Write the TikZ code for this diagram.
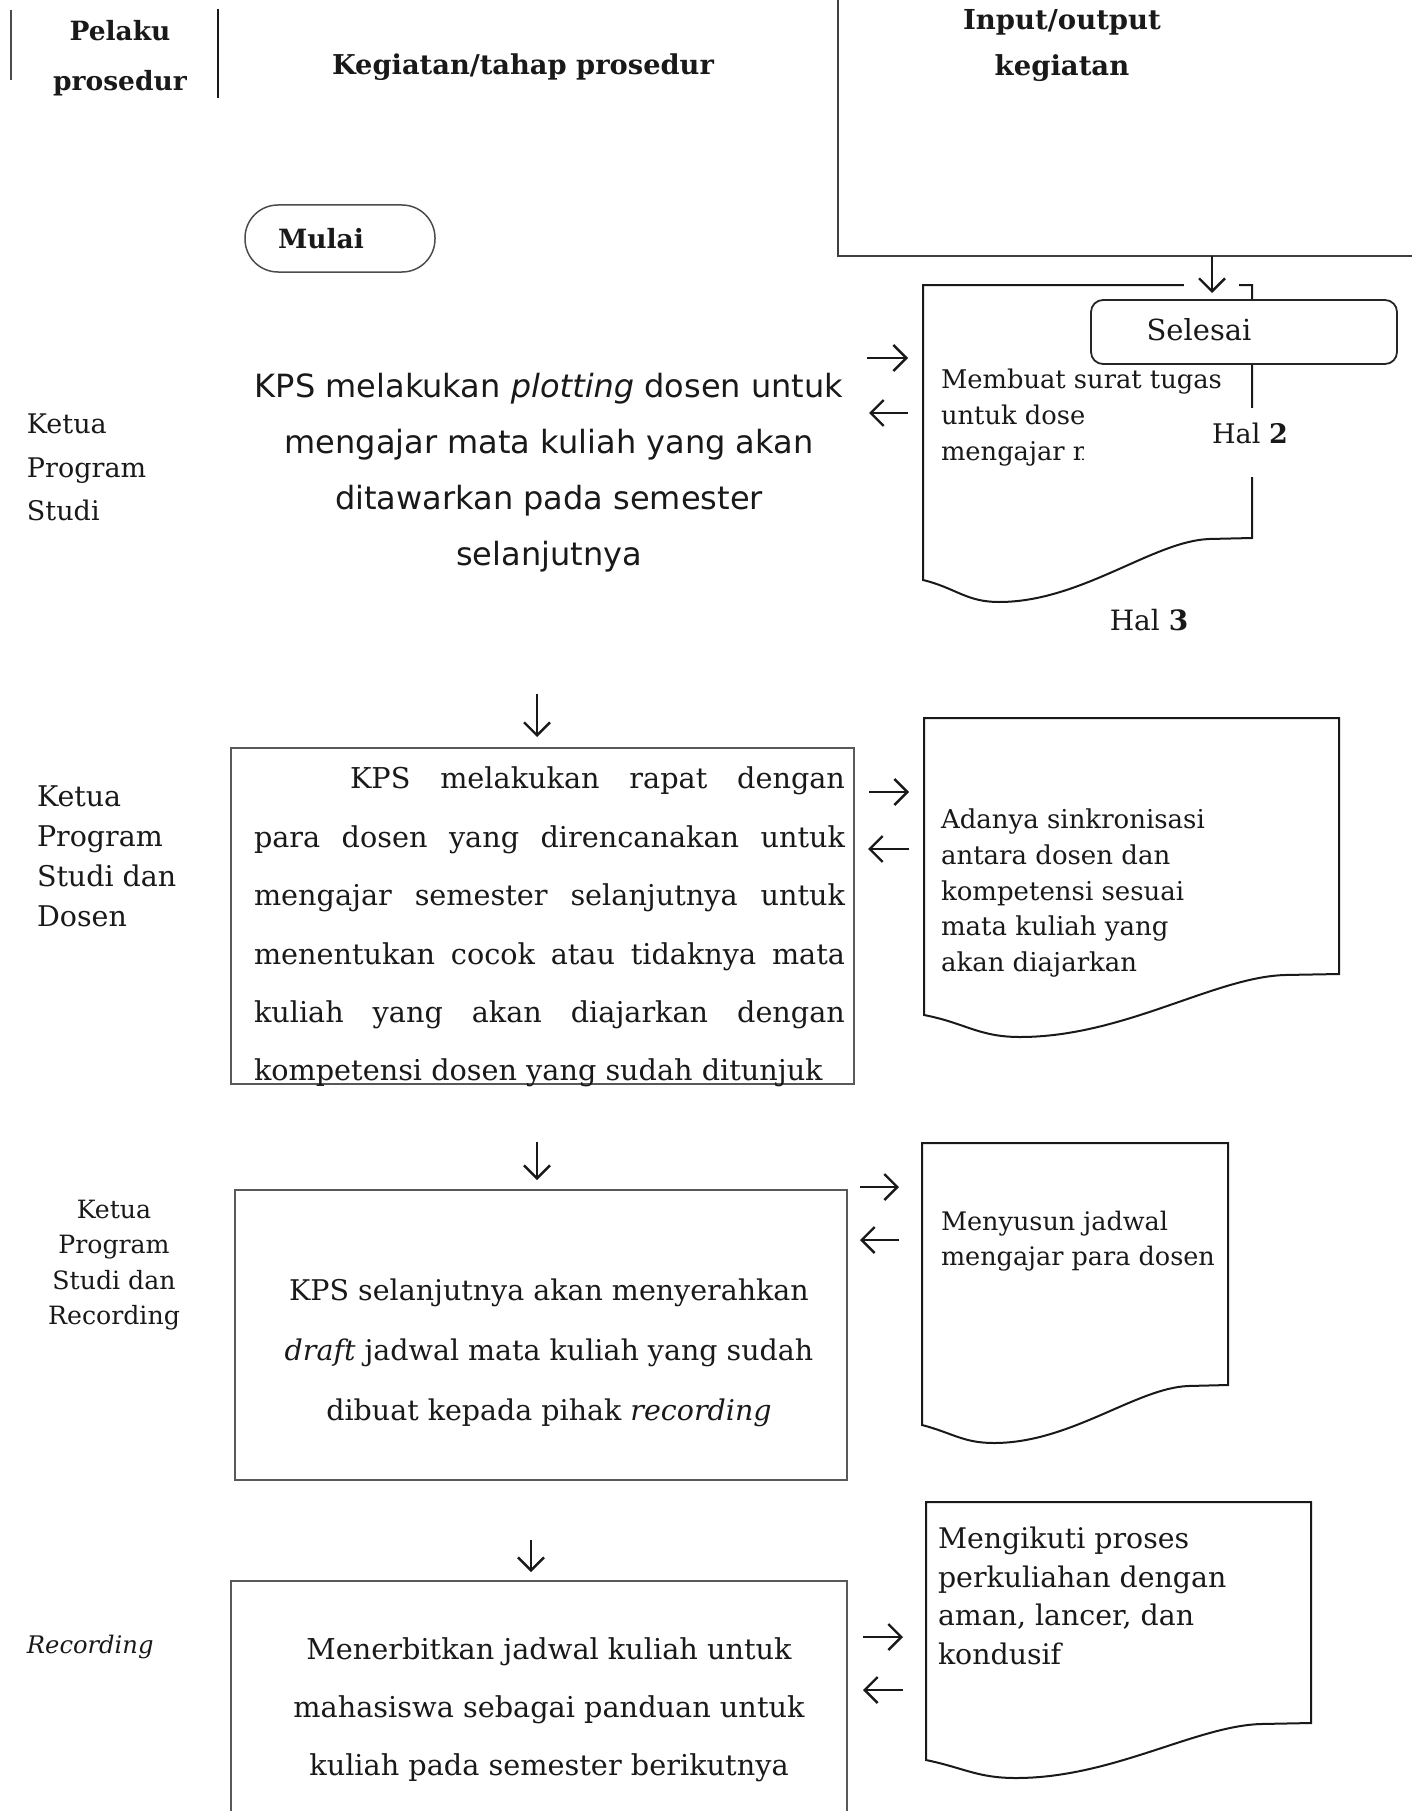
\documentclass[tikz,border=0pt]{standalone}
\usepackage{fontspec}
\setmainfont{DejaVu Serif}
\newfontfamily\sansf{DejaVu Sans}
\usetikzlibrary{arrows.meta}
\newcommand\fsz[2]{\fontsize{#1}{#2}\selectfont}
% document symbol: #1 left, #2 top, #3 right, #4 right bottom, #5 left bottom, #6 wave x, #7 wave y
\newcommand\docpath[7]{%
  \draw[docline] (#1,#2) -- (#3,#2) -- (#3,#4)
    -- ({#3-0.13*(#3-#1)},{#4+1})
    .. controls ({#3-0.3*(#3-#1)},{#4+3}) and ({#6+0.25*(#3-#1)},{#7}) .. (#6,#7)
    .. controls ({#6-0.1*(#3-#1)},{#7}) and ({#1+0.1*(#3-#1)},{#5+8}) .. (#1,#5) -- cycle;}
\begin{document}
\begin{tikzpicture}[x=1pt,y=-1pt,
  every node/.style={inner sep=0pt, outer sep=0pt, text=black!90},
  hdr/.style={font=\bfseries\fsz{27.3}{50}, align=center},
  boxline/.style={draw=black!65, line width=1.6pt},
  docline/.style={draw=black!90, line width=2pt},
  arr/.style={line width=2.4pt, black!90, -{Straight Barb[length=13pt,width=26pt]}},
  lbl/.style={align=left, anchor=north west},
  doctext/.style={align=left, anchor=north west}]
\useasboundingbox (0,0) rectangle (1412,1811);

% ---------- header ----------
\draw[line width=1.2pt, black!70] (11,10) -- (11,80);
\draw[line width=2pt, black!90] (218,9) -- (218,98);
\node[hdr, font=\bfseries\fsz{26.5}{50}] (pel) at (120,58.5) {Pelaku\\prosedur};
\node[hdr] (keg) at (523,67) {Kegiatan/tahap prosedur};
\node[hdr, font=\bfseries\fsz{27.5}{46}] (io) at (1062,46) {Input/output\\kegiatan};
\draw[line width=2pt, black!75] (838,-10) -- (838,256) -- (1420,256);
\coordinate (ioS) at (1212,256);
\coordinate (ioE) at (1212,293);

% ---------- start ----------
\node[draw=black!70, line width=1.5pt, rounded corners=33pt, minimum width=190pt,
      minimum height=67pt, font=\bfseries\fsz{26.5}{30}] (mulai) at (340,238.5) {Mulai\hspace*{38pt}};

% ---------- step 1 ----------
\node[lbl, font=\fsz{27}{43.5}] (l1) at (27,414) {Ketua\\Program\\Studi};
\node[font=\sansf\fsz{32}{56}, align=center] (t1) at (549,473)
  {KPS melakukan \textit{plotting} dosen untuk\\mengajar mata kuliah yang akan\\ditawarkan pada semester\\selanjutnya};
\coordinate (a1o) at (867,358); \coordinate (a1i) at (908,358);
\coordinate (b1o) at (908,413); \coordinate (b1i) at (869,413);
\draw[arr] (a1o) -- (a1i);
\draw[arr] (b1o) -- (b1i);
\docpath{923}{285}{1252}{538}{580}{999}{602}
\node[doctext, font=\fsz{25.75}{36}] (d1t) at (941,369) {Membuat surat tugas\\untuk dosen\\mengajar m};
\fill[white] (1084,408) rectangle (1292,477);
\node[font=\fsz{27}{30}] (hal2) at (1250,433) {Hal \textbf{2}};
\fill[white] (1184,279) rectangle (1239,291);
\draw[arr] (ioS) -- (ioE);
\node[draw=black!85, line width=1.8pt, fill=white, rounded corners=12pt, minimum width=306pt,
      minimum height=64pt, font=\fsz{29}{32}] (sel) at (1244,332) {\raisebox{5pt}{Selesai}\hspace*{90pt}};
\node[font=\fsz{28}{30}] (hal3) at (1149,620) {Hal \textbf{3}};

% ---------- step 2 ----------
\coordinate (d1s) at (537,694); \coordinate (d1e) at (537,737);
\draw[arr] (d1s) -- (d1e);
\node[boxline, minimum width=623pt, minimum height=336pt] (box2) at (542.5,916) {};
\node[font=\fsz{28.7}{58.4}, text width=591pt, align=justify, anchor=north west] (t2) at (254,767)
  {\hspace*{96pt}KPS melakukan rapat dengan\linebreak
   para dosen yang direncanakan untuk\linebreak
   mengajar semester selanjutnya untuk\linebreak
   menentukan cocok atau tidaknya mata\linebreak
   kuliah yang akan diajarkan dengan\linebreak
   kompetensi dosen yang sudah ditunjuk};
\node[lbl, font=\fsz{28.5}{40}] (l2) at (37,786) {Ketua\\Program\\Studi dan\\Dosen};
\coordinate (a2o) at (869,792); \coordinate (a2i) at (909,792);
\coordinate (b2o) at (909,849); \coordinate (b2i) at (868,849);
\draw[arr] (a2o) -- (a2i);
\draw[arr] (b2o) -- (b2i);
\docpath{924}{718}{1339}{974}{1015}{1020}{1037}
\node[doctext, font=\fsz{26}{35.7}] (d2t) at (941,809)
  {Adanya sinkronisasi\\antara dosen dan\\kompetensi sesuai\\mata kuliah yang\\akan diajarkan};

% ---------- step 3 ----------
\coordinate (d2s) at (537,1142); \coordinate (d2e) at (537,1180);
\draw[arr] (d2s) -- (d2e);
\node[boxline, minimum width=612pt, minimum height=290pt] (box3) at (541,1335) {};
\node[font=\fsz{28.5}{60}, align=center, anchor=north] (t3) at (549,1279)
  {KPS selanjutnya akan menyerahkan\\\textit{draft} jadwal mata kuliah yang sudah\\dibuat kepada pihak \textit{recording}};
\node[font=\fsz{25.2}{35.5}, align=center, anchor=north] (l3) at (114,1200)
  {Ketua\\Program\\Studi dan\\Recording};
\coordinate (a3o) at (860,1187); \coordinate (a3i) at (899,1187);
\coordinate (b3o) at (899,1240); \coordinate (b3i) at (860,1240);
\draw[arr] (a3o) -- (a3i);
\draw[arr] (b3o) -- (b3i);
\docpath{922}{1143}{1228}{1385}{1425}{994}{1443}
\node[doctext, font=\fsz{25.5}{35}] (d3t) at (941,1211) {Menyusun jadwal\\mengajar para dosen};

% ---------- step 4 ----------
\coordinate (d3s) at (531,1540); \coordinate (d3e) at (531,1572);
\draw[arr] (d3s) -- (d3e);
\node[boxline, minimum width=616pt, minimum height=249pt] (box4) at (539,1705.5) {};
\node[font=\fsz{28.75}{58}, align=center, anchor=north] (t4) at (549,1638)
  {Menerbitkan jadwal kuliah untuk\\mahasiswa sebagai panduan untuk\\kuliah pada semester berikutnya};
\node[font=\itshape\fsz{24.2}{30}, anchor=west] (l4) at (27,1647) {Recording};
\coordinate (a4o) at (863,1637); \coordinate (a4i) at (903,1637);
\coordinate (b4o) at (903,1690); \coordinate (b4i) at (863,1690);
\draw[arr] (a4o) -- (a4i);
\draw[arr] (b4o) -- (b4i);
\docpath{926}{1502}{1311}{1723}{1760}{1016}{1778}
\node[doctext, font=\fsz{28.4}{38.7}] (d4t) at (938,1527)
  {Mengikuti proses\\perkuliahan dengan\\aman, lancer, dan\\kondusif};
\end{tikzpicture}
\end{document}
